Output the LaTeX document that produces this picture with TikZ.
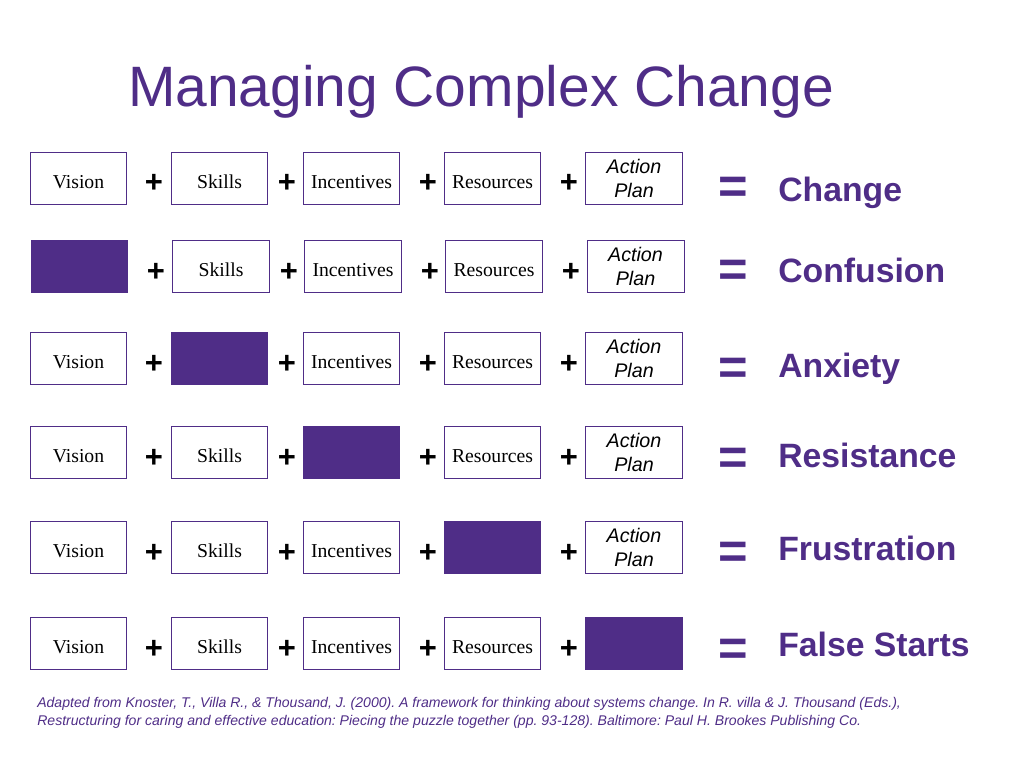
\documentclass[tikz,border=0pt]{standalone}
\usepackage{fontspec}
\setmainfont{Liberation Serif}
\setsansfont{Liberation Sans}
\usepackage{tikz}

\definecolor{kpurple}{RGB}{79,45,135}

\tikzset{
  basebox/.style={draw=kpurple,line width=0.6pt,fill=white,minimum width=2.42cm,minimum height=1.32cm,inner sep=0pt},
  box/.style={basebox,text height=14pt,text depth=0pt,font=\fontsize{14}{16}\selectfont},
  filledbox/.style={basebox,fill=kpurple},
  planbox/.style={basebox,align=center,font=\sffamily\itshape\fontsize{14}{17}\selectfont},
  plussign/.style={inner sep=0pt,font=\sffamily\bfseries\fontsize{22}{22}\selectfont},
  eqsign/.style={inner sep=0pt,text=kpurple,font=\sffamily\bfseries\fontsize{36}{36}\selectfont},
  result/.style={anchor=base west,inner sep=0pt,text=kpurple,font=\sffamily\bfseries\fontsize{24}{24}\selectfont}
}

\begin{document}
\frenchspacing
\begin{tikzpicture}[x=0.025cm,y=-0.025cm]
				\useasboundingbox (0,0) rectangle (1024,768);
				\node[text=kpurple,font=\sffamily\fontsize{40.5}{40.5}\selectfont] (title) at (481,92) {Managing Complex Change};
				% Change
				\node[box] (v1) at (78.5,178.5) {Vision};
				\node[box] (s1) at (219.5,178.5) {Skills};
				\node[box] (i1) at (351.5,178.5) {Incentives};
				\node[box] (r1) at (492.5,178.5) {Resources};
				\node[planbox] (a1) at (634,178.5) {Action\\Plan};
				\node[plussign] (p11) at (154,183) {+};
				\node[plussign] (p12) at (287,183) {+};
				\node[plussign] (p13) at (428,183) {+};
				\node[plussign] (p14) at (569,183) {+};
				\node[eqsign] (e1) at (733,190) {=};
				\node[result] (change) at (778,201) {Change};
				% Confusion
				\node[filledbox] (v2) at (79.5,266.5) {};
				\node[box] (s2) at (221,266.5) {Skills};
				\node[box] (i2) at (353,266.5) {Incentives};
				\node[box] (r2) at (494,266.5) {Resources};
				\node[planbox] (a2) at (635.5,266.5) {Action\\Plan};
				\node[plussign] (p21) at (156,272) {+};
				\node[plussign] (p22) at (289,272) {+};
				\node[plussign] (p23) at (430,272) {+};
				\node[plussign] (p24) at (571,272) {+};
				\node[eqsign] (e2) at (733,273) {=};
				\node[result] (confusion) at (778,282) {Confusion};
				% Anxiety
				\node[box] (v3) at (78.5,358.5) {Vision};
				\node[filledbox] (s3) at (219.5,358.5) {};
				\node[box] (i3) at (351.5,358.5) {Incentives};
				\node[box] (r3) at (492.5,358.5) {Resources};
				\node[planbox] (a3) at (634,358.5) {Action\\Plan};
				\node[plussign] (p31) at (154,364) {+};
				\node[plussign] (p32) at (287,364) {+};
				\node[plussign] (p33) at (428,364) {+};
				\node[plussign] (p34) at (569,364) {+};
				\node[eqsign] (e3) at (733,371) {=};
				\node[result] (anxiety) at (778,377) {Anxiety};
				% Resistance
				\node[box] (v4) at (78.5,452.5) {Vision};
				\node[box] (s4) at (219.5,452.5) {Skills};
				\node[filledbox] (i4) at (351.5,452.5) {};
				\node[box] (r4) at (492.5,452.5) {Resources};
				\node[planbox] (a4) at (634,452.5) {Action\\Plan};
				\node[plussign] (p41) at (154,458) {+};
				\node[plussign] (p42) at (287,458) {+};
				\node[plussign] (p43) at (428,458) {+};
				\node[plussign] (p44) at (569,458) {+};
				\node[eqsign] (e4) at (733,461) {=};
				\node[result] (resistance) at (778,467) {Resistance};
				% Frustration
				\node[box] (v5) at (78.5,547.5) {Vision};
				\node[box] (s5) at (219.5,547.5) {Skills};
				\node[box] (i5) at (351.5,547.5) {Incentives};
				\node[filledbox] (r5) at (492.5,547.5) {};
				\node[planbox] (a5) at (634,547.5) {Action\\Plan};
				\node[plussign] (p51) at (154,553) {+};
				\node[plussign] (p52) at (287,553) {+};
				\node[plussign] (p53) at (428,553) {+};
				\node[plussign] (p54) at (569,553) {+};
				\node[eqsign] (e5) at (733,555) {=};
				\node[result] (frustration) at (778,560) {Frustration};
				% False Starts
				\node[box] (v6) at (78.5,643.5) {Vision};
				\node[box] (s6) at (219.5,643.5) {Skills};
				\node[box] (i6) at (351.5,643.5) {Incentives};
				\node[box] (r6) at (492.5,643.5) {Resources};
				\node[filledbox] (a6) at (634,643.5) {};
				\node[plussign] (p61) at (154,649) {+};
				\node[plussign] (p62) at (287,649) {+};
				\node[plussign] (p63) at (428,649) {+};
				\node[plussign] (p64) at (569,649) {+};
				\node[eqsign] (e6) at (733,652) {=};
				\node[result] (falsestarts) at (778,656) {False Starts};
				% source
				\node[anchor=north west,inner sep=0pt,align=left,text=kpurple,font=\sffamily\itshape\fontsize{10}{12.8}\selectfont] (source) at (37,697) {Adapted from Knoster, T., Villa R., \& Thousand, J. (2000). A framework for thinking about systems change. In R. villa \& J. Thousand (Eds.),\\Restructuring for caring and effective education: Piecing the puzzle together (pp. 93-128). Baltimore: Paul H. Brookes Publishing Co.};
			\end{tikzpicture}
\end{document}
